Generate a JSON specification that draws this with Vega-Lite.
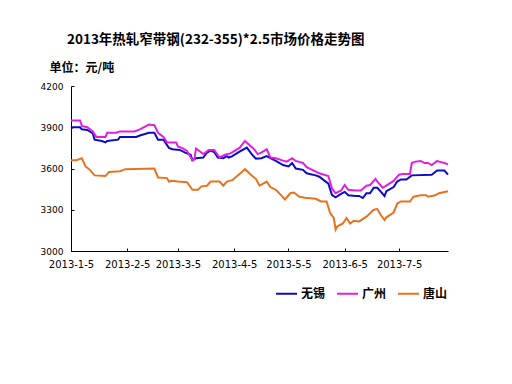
{
  "$schema": "https://vega.github.io/schema/vega-lite/v6.json",
  "autosize": "none",
  "width": 377,
  "height": 165,
  "padding": {"left": 71, "top": 86, "right": 64, "bottom": 133},
  "background": "white",
  "title": {
    "text": "2013年热轧窄带钢(232-355)*2.5市场价格走势图",
    "anchor": "start",
    "frame": "group",
    "dx": -4,
    "font": "Noto Sans CJK SC",
    "fontSize": 13.5,
    "fontWeight": "bold",
    "color": "black",
    "offset": 15
  },
  "config": {
    "view": {"stroke": null},
    "axis": {"grid": false, "domainColor": "black", "tickColor": "black", "labelColor": "black"}
  },
  "data": {"values": [
    {"date": "2013/01/05", "city": "无锡", "price": 3890},
    {"date": "2013/01/06", "city": "无锡", "price": 3900},
    {"date": "2013/01/10", "city": "无锡", "price": 3900},
    {"date": "2013/01/11", "city": "无锡", "price": 3885},
    {"date": "2013/01/14", "city": "无锡", "price": 3880},
    {"date": "2013/01/17", "city": "无锡", "price": 3856},
    {"date": "2013/01/18", "city": "无锡", "price": 3810},
    {"date": "2013/01/22", "city": "无锡", "price": 3800},
    {"date": "2013/01/24", "city": "无锡", "price": 3790},
    {"date": "2013/01/25", "city": "无锡", "price": 3800},
    {"date": "2013/01/31", "city": "无锡", "price": 3810},
    {"date": "2013/02/01", "city": "无锡", "price": 3830},
    {"date": "2013/02/10", "city": "无锡", "price": 3830},
    {"date": "2013/02/12", "city": "无锡", "price": 3840},
    {"date": "2013/02/17", "city": "无锡", "price": 3860},
    {"date": "2013/02/20", "city": "无锡", "price": 3860},
    {"date": "2013/02/22", "city": "无锡", "price": 3810},
    {"date": "2013/02/25", "city": "无锡", "price": 3810},
    {"date": "2013/02/28", "city": "无锡", "price": 3750},
    {"date": "2013/03/02", "city": "无锡", "price": 3740},
    {"date": "2013/03/06", "city": "无锡", "price": 3735},
    {"date": "2013/03/09", "city": "无锡", "price": 3715},
    {"date": "2013/03/12", "city": "无锡", "price": 3700},
    {"date": "2013/03/13", "city": "无锡", "price": 3660},
    {"date": "2013/03/15", "city": "无锡", "price": 3675},
    {"date": "2013/03/19", "city": "无锡", "price": 3680},
    {"date": "2013/03/21", "city": "无锡", "price": 3715},
    {"date": "2013/03/23", "city": "无锡", "price": 3730},
    {"date": "2013/03/25", "city": "无锡", "price": 3720},
    {"date": "2013/03/27", "city": "无锡", "price": 3680},
    {"date": "2013/03/30", "city": "无锡", "price": 3675},
    {"date": "2013/04/01", "city": "无锡", "price": 3690},
    {"date": "2013/04/02", "city": "无锡", "price": 3680},
    {"date": "2013/04/04", "city": "无锡", "price": 3690},
    {"date": "2013/04/08", "city": "无锡", "price": 3722},
    {"date": "2013/04/12", "city": "无锡", "price": 3752},
    {"date": "2013/04/15", "city": "无锡", "price": 3700},
    {"date": "2013/04/17", "city": "无锡", "price": 3672},
    {"date": "2013/04/20", "city": "无锡", "price": 3675},
    {"date": "2013/04/23", "city": "无锡", "price": 3690},
    {"date": "2013/04/25", "city": "无锡", "price": 3675},
    {"date": "2013/04/28", "city": "无锡", "price": 3655},
    {"date": "2013/05/02", "city": "无锡", "price": 3625},
    {"date": "2013/05/05", "city": "无锡", "price": 3615},
    {"date": "2013/05/07", "city": "无锡", "price": 3640},
    {"date": "2013/05/09", "city": "无锡", "price": 3600},
    {"date": "2013/05/13", "city": "无锡", "price": 3590},
    {"date": "2013/05/15", "city": "无锡", "price": 3565},
    {"date": "2013/05/20", "city": "无锡", "price": 3550},
    {"date": "2013/05/22", "city": "无锡", "price": 3540},
    {"date": "2013/05/27", "city": "无锡", "price": 3490},
    {"date": "2013/05/29", "city": "无锡", "price": 3407},
    {"date": "2013/05/31", "city": "无锡", "price": 3390},
    {"date": "2013/06/03", "city": "无锡", "price": 3415},
    {"date": "2013/06/05", "city": "无锡", "price": 3430},
    {"date": "2013/06/07", "city": "无锡", "price": 3405},
    {"date": "2013/06/11", "city": "无锡", "price": 3400},
    {"date": "2013/06/13", "city": "无锡", "price": 3400},
    {"date": "2013/06/15", "city": "无锡", "price": 3385},
    {"date": "2013/06/17", "city": "无锡", "price": 3420},
    {"date": "2013/06/19", "city": "无锡", "price": 3420},
    {"date": "2013/06/21", "city": "无锡", "price": 3460},
    {"date": "2013/06/23", "city": "无锡", "price": 3460},
    {"date": "2013/06/25", "city": "无锡", "price": 3430},
    {"date": "2013/06/27", "city": "无锡", "price": 3400},
    {"date": "2013/06/28", "city": "无锡", "price": 3435},
    {"date": "2013/06/30", "city": "无锡", "price": 3450},
    {"date": "2013/07/02", "city": "无锡", "price": 3465},
    {"date": "2013/07/04", "city": "无锡", "price": 3505},
    {"date": "2013/07/06", "city": "无锡", "price": 3520},
    {"date": "2013/07/09", "city": "无锡", "price": 3520},
    {"date": "2013/07/12", "city": "无锡", "price": 3550},
    {"date": "2013/07/23", "city": "无锡", "price": 3555},
    {"date": "2013/07/26", "city": "无锡", "price": 3585},
    {"date": "2013/07/30", "city": "无锡", "price": 3585},
    {"date": "2013/08/01", "city": "无锡", "price": 3555},
    {"date": "2013/01/05", "city": "广州", "price": 3950},
    {"date": "2013/01/10", "city": "广州", "price": 3950},
    {"date": "2013/01/11", "city": "广州", "price": 3910},
    {"date": "2013/01/14", "city": "广州", "price": 3900},
    {"date": "2013/01/17", "city": "广州", "price": 3870},
    {"date": "2013/01/19", "city": "广州", "price": 3830},
    {"date": "2013/01/24", "city": "广州", "price": 3830},
    {"date": "2013/01/25", "city": "广州", "price": 3860},
    {"date": "2013/01/30", "city": "广州", "price": 3860},
    {"date": "2013/02/01", "city": "广州", "price": 3870},
    {"date": "2013/02/09", "city": "广州", "price": 3870},
    {"date": "2013/02/12", "city": "广州", "price": 3885},
    {"date": "2013/02/17", "city": "广州", "price": 3920},
    {"date": "2013/02/20", "city": "广州", "price": 3915},
    {"date": "2013/02/22", "city": "广州", "price": 3860},
    {"date": "2013/02/25", "city": "广州", "price": 3830},
    {"date": "2013/02/27", "city": "广州", "price": 3790},
    {"date": "2013/03/04", "city": "广州", "price": 3790},
    {"date": "2013/03/05", "city": "广州", "price": 3760},
    {"date": "2013/03/08", "city": "广州", "price": 3745},
    {"date": "2013/03/10", "city": "广州", "price": 3727},
    {"date": "2013/03/13", "city": "广州", "price": 3660},
    {"date": "2013/03/14", "city": "广州", "price": 3665},
    {"date": "2013/03/15", "city": "广州", "price": 3745},
    {"date": "2013/03/19", "city": "广州", "price": 3705},
    {"date": "2013/03/22", "city": "广州", "price": 3735},
    {"date": "2013/03/25", "city": "广州", "price": 3735},
    {"date": "2013/03/28", "city": "广州", "price": 3680},
    {"date": "2013/03/31", "city": "广州", "price": 3700},
    {"date": "2013/04/03", "city": "广州", "price": 3710},
    {"date": "2013/04/08", "city": "广州", "price": 3750},
    {"date": "2013/04/11", "city": "广州", "price": 3800},
    {"date": "2013/04/16", "city": "广州", "price": 3740},
    {"date": "2013/04/18", "city": "广州", "price": 3705},
    {"date": "2013/04/20", "city": "广州", "price": 3715},
    {"date": "2013/04/23", "city": "广州", "price": 3740},
    {"date": "2013/04/25", "city": "广州", "price": 3680},
    {"date": "2013/04/28", "city": "广州", "price": 3675},
    {"date": "2013/05/02", "city": "广州", "price": 3657},
    {"date": "2013/05/04", "city": "广州", "price": 3650},
    {"date": "2013/05/07", "city": "广州", "price": 3675},
    {"date": "2013/05/09", "city": "广州", "price": 3655},
    {"date": "2013/05/13", "city": "广州", "price": 3640},
    {"date": "2013/05/15", "city": "广州", "price": 3610},
    {"date": "2013/05/19", "city": "广州", "price": 3585},
    {"date": "2013/05/22", "city": "广州", "price": 3565},
    {"date": "2013/05/27", "city": "广州", "price": 3545},
    {"date": "2013/05/29", "city": "广州", "price": 3455},
    {"date": "2013/05/31", "city": "广州", "price": 3420},
    {"date": "2013/06/03", "city": "广州", "price": 3440},
    {"date": "2013/06/05", "city": "广州", "price": 3480},
    {"date": "2013/06/07", "city": "广州", "price": 3445},
    {"date": "2013/06/11", "city": "广州", "price": 3440},
    {"date": "2013/06/14", "city": "广州", "price": 3440},
    {"date": "2013/06/17", "city": "广州", "price": 3475},
    {"date": "2013/06/19", "city": "广州", "price": 3480},
    {"date": "2013/06/22", "city": "广州", "price": 3525},
    {"date": "2013/06/23", "city": "广州", "price": 3505},
    {"date": "2013/06/26", "city": "广州", "price": 3460},
    {"date": "2013/06/29", "city": "广州", "price": 3485},
    {"date": "2013/07/02", "city": "广州", "price": 3510},
    {"date": "2013/07/05", "city": "广州", "price": 3555},
    {"date": "2013/07/07", "city": "广州", "price": 3560},
    {"date": "2013/07/11", "city": "广州", "price": 3560},
    {"date": "2013/07/12", "city": "广州", "price": 3640},
    {"date": "2013/07/14", "city": "广州", "price": 3650},
    {"date": "2013/07/17", "city": "广州", "price": 3655},
    {"date": "2013/07/19", "city": "广州", "price": 3640},
    {"date": "2013/07/21", "city": "广州", "price": 3640},
    {"date": "2013/07/23", "city": "广州", "price": 3625},
    {"date": "2013/07/26", "city": "广州", "price": 3655},
    {"date": "2013/07/27", "city": "广州", "price": 3650},
    {"date": "2013/07/30", "city": "广州", "price": 3640},
    {"date": "2013/08/01", "city": "广州", "price": 3630},
    {"date": "2013/01/05", "city": "唐山", "price": 3660},
    {"date": "2013/01/08", "city": "唐山", "price": 3660},
    {"date": "2013/01/10", "city": "唐山", "price": 3670},
    {"date": "2013/01/11", "city": "唐山", "price": 3675},
    {"date": "2013/01/13", "city": "唐山", "price": 3615},
    {"date": "2013/01/15", "city": "唐山", "price": 3595},
    {"date": "2013/01/18", "city": "唐山", "price": 3550},
    {"date": "2013/01/24", "city": "唐山", "price": 3545},
    {"date": "2013/01/26", "city": "唐山", "price": 3575},
    {"date": "2013/02/01", "city": "唐山", "price": 3580},
    {"date": "2013/02/04", "city": "唐山", "price": 3595},
    {"date": "2013/02/20", "city": "唐山", "price": 3600},
    {"date": "2013/02/22", "city": "唐山", "price": 3535},
    {"date": "2013/02/27", "city": "唐山", "price": 3530},
    {"date": "2013/02/28", "city": "唐山", "price": 3505},
    {"date": "2013/03/02", "city": "唐山", "price": 3510},
    {"date": "2013/03/05", "city": "唐山", "price": 3505},
    {"date": "2013/03/10", "city": "唐山", "price": 3500},
    {"date": "2013/03/13", "city": "唐山", "price": 3445},
    {"date": "2013/03/16", "city": "唐山", "price": 3445},
    {"date": "2013/03/18", "city": "唐山", "price": 3470},
    {"date": "2013/03/21", "city": "唐山", "price": 3475},
    {"date": "2013/03/23", "city": "唐山", "price": 3505},
    {"date": "2013/03/28", "city": "唐山", "price": 3505},
    {"date": "2013/03/30", "city": "唐山", "price": 3475},
    {"date": "2013/04/01", "city": "唐山", "price": 3505},
    {"date": "2013/04/04", "city": "唐山", "price": 3515},
    {"date": "2013/04/08", "city": "唐山", "price": 3560},
    {"date": "2013/04/11", "city": "唐山", "price": 3595},
    {"date": "2013/04/15", "city": "唐山", "price": 3545},
    {"date": "2013/04/17", "city": "唐山", "price": 3525},
    {"date": "2013/04/19", "city": "唐山", "price": 3475},
    {"date": "2013/04/23", "city": "唐山", "price": 3505},
    {"date": "2013/04/25", "city": "唐山", "price": 3465},
    {"date": "2013/04/28", "city": "唐山", "price": 3445},
    {"date": "2013/05/01", "city": "唐山", "price": 3405},
    {"date": "2013/05/03", "city": "唐山", "price": 3375},
    {"date": "2013/05/06", "city": "唐山", "price": 3420},
    {"date": "2013/05/08", "city": "唐山", "price": 3425},
    {"date": "2013/05/11", "city": "唐山", "price": 3395},
    {"date": "2013/05/14", "city": "唐山", "price": 3388},
    {"date": "2013/05/20", "city": "唐山", "price": 3380},
    {"date": "2013/05/23", "city": "唐山", "price": 3360},
    {"date": "2013/05/26", "city": "唐山", "price": 3360},
    {"date": "2013/05/28", "city": "唐山", "price": 3275},
    {"date": "2013/05/30", "city": "唐山", "price": 3240},
    {"date": "2013/05/31", "city": "唐山", "price": 3155},
    {"date": "2013/06/01", "city": "唐山", "price": 3180},
    {"date": "2013/06/04", "city": "唐山", "price": 3200},
    {"date": "2013/06/06", "city": "唐山", "price": 3240},
    {"date": "2013/06/08", "city": "唐山", "price": 3200},
    {"date": "2013/06/10", "city": "唐山", "price": 3220},
    {"date": "2013/06/13", "city": "唐山", "price": 3215},
    {"date": "2013/06/17", "city": "唐山", "price": 3250},
    {"date": "2013/06/21", "city": "唐山", "price": 3300},
    {"date": "2013/06/23", "city": "唐山", "price": 3305},
    {"date": "2013/06/25", "city": "唐山", "price": 3260},
    {"date": "2013/06/27", "city": "唐山", "price": 3225},
    {"date": "2013/06/28", "city": "唐山", "price": 3245},
    {"date": "2013/07/02", "city": "唐山", "price": 3280},
    {"date": "2013/07/04", "city": "唐山", "price": 3345},
    {"date": "2013/07/06", "city": "唐山", "price": 3360},
    {"date": "2013/07/11", "city": "唐山", "price": 3360},
    {"date": "2013/07/13", "city": "唐山", "price": 3395},
    {"date": "2013/07/17", "city": "唐山", "price": 3405},
    {"date": "2013/07/20", "city": "唐山", "price": 3405},
    {"date": "2013/07/21", "city": "唐山", "price": 3395},
    {"date": "2013/07/25", "city": "唐山", "price": 3405},
    {"date": "2013/07/27", "city": "唐山", "price": 3420},
    {"date": "2013/08/01", "city": "唐山", "price": 3435}
  ]},
  "mark": {"type": "line", "strokeWidth": 2},
  "encoding": {
    "x": {
      "field": "date",
      "type": "temporal",
      "scale": {"domain": [{"year": 2013, "month": 1, "date": 5}, {"year": 2013, "month": 8, "date": 1}], "nice": false},
      "axis": {
        "title": null,
        "values": [
          {"year": 2013, "month": 1, "date": 5},
          {"year": 2013, "month": 2, "date": 5},
          {"year": 2013, "month": 3, "date": 5},
          {"year": 2013, "month": 4, "date": 5},
          {"year": 2013, "month": 5, "date": 5},
          {"year": 2013, "month": 6, "date": 5},
          {"year": 2013, "month": 7, "date": 5}
        ],
        "format": "%Y-%-m-%-d",
        "labelFont": "DejaVu Sans",
        "labelFontSize": 10,
        "labelOverlap": false,
        "labelBound": false,
        "labelFlush": false,
        "tickSize": -3,
        "labelPadding": 11
      }
    },
    "y": {
      "field": "price",
      "type": "quantitative",
      "scale": {"domain": [3000, 4200], "nice": false, "zero": false},
      "axis": {
        "values": [3000, 3300, 3600, 3900, 4200],
        "format": "d",
        "title": "单位：元/吨",
        "titleAngle": 0,
        "titleAlign": "left",
        "titleBaseline": "middle",
        "titleX": -22,
        "titleY": -19,
        "titleFont": "Noto Sans CJK SC",
        "titleFontSize": 12,
        "titleFontWeight": "bold",
        "titleColor": "black",
        "labelFont": "DejaVu Sans",
        "labelFontSize": 9,
        "tickSize": -3,
        "labelPadding": 11
      }
    },
    "color": {
      "field": "city",
      "type": "nominal",
      "scale": {"domain": ["无锡", "广州", "唐山"], "range": ["#0a0ac8", "#e020e0", "#e8731e"]},
      "legend": {
        "title": null,
        "orient": "none",
        "direction": "horizontal",
        "legendX": 204,
        "legendY": 196,
        "symbolType": "stroke",
        "symbolSize": 440,
        "symbolStrokeWidth": 2,
        "labelFont": "Noto Sans CJK SC",
        "labelFontSize": 12,
        "labelFontWeight": "bold",
        "labelColor": "black",
        "labelOffset": 3,
        "columnPadding": 7
      }
    }
  }
}
